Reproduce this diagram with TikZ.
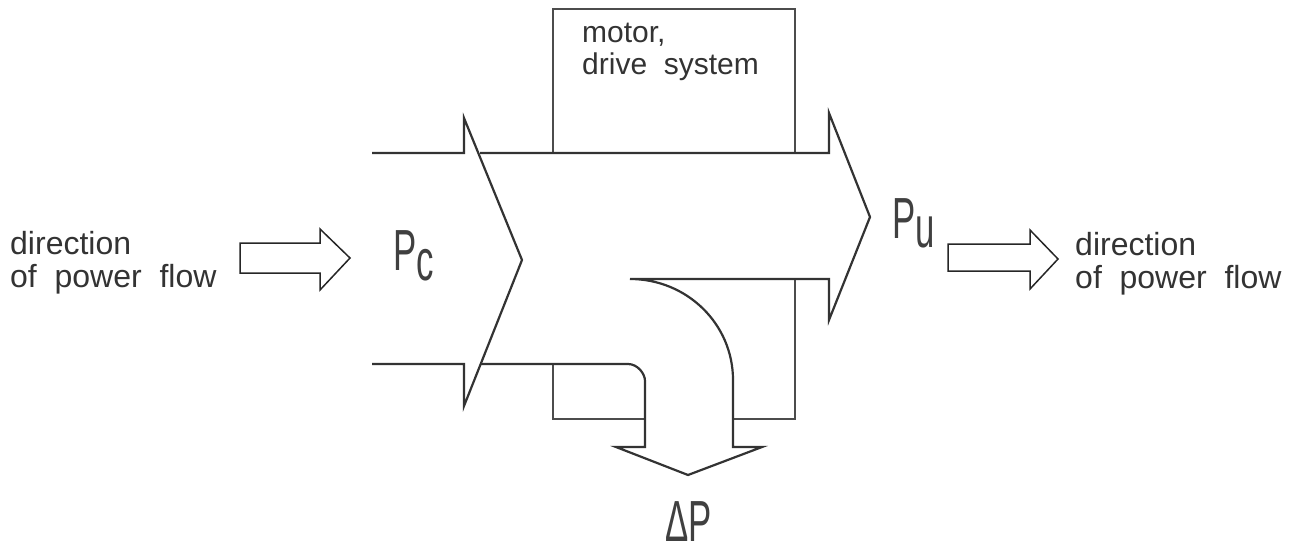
\documentclass[tikz,border=0pt]{standalone}
\usepackage{fontspec}
\setmainfont{Liberation Sans}
\usepackage{graphicx}
\begin{document}
\begin{tikzpicture}[x=1pt,y=-1pt,
  flow/.style={line width=2.2pt, draw=black!80, line join=miter},
  boxline/.style={line width=1.2pt, draw=black!70},
  hollow/.style={line width=1.5pt, draw=black!85, line join=miter},
  lbl/.style={inner sep=0pt, text=black!80, font=\fontsize{32}{33}\selectfont, align=left, anchor=north west},
  big/.style={inner sep=0pt, text=black!75, font=\fontsize{58}{60}\selectfont, anchor=base west}]
\useasboundingbox (0,0) rectangle (1295,547);
% motor / drive system box (partly hidden by the power arrow)
\draw[boxline] (553,9) rectangle (795,419);
\node[lbl, font=\fontsize{30}{32}\selectfont] (motor) at (582,23) {motor,\\drive\ \ system};
% white body of the power arrow
\fill[white] (480,153) -- (829,153) -- (829,279) -- (630,279)
  .. controls (687,279) and (733,324) .. (733,380) -- (733,447) -- (645,447) -- (645,381)
  .. controls (645,373.4) and (637.4,364) .. (628,364) -- (480,364) -- cycle;
% input channel and notched tail
\draw[flow] (372,153) -- (464,153) -- (464,118) -- (522,260) -- (464,406) -- (464,364) -- (372,364);
% arrow body, useful power head and loss branch
\draw[flow] (480,153) -- (829,153) -- (829,113) -- (870,217) -- (829,320) -- (829,279) -- (630,279)
  .. controls (687,279) and (733,324) .. (733,380) -- (733,447) -- (762,447) -- (688,475) -- (616,447)
  -- (645,447) -- (645,381) .. controls (645,373.4) and (637.4,364) .. (628,364) -- (480,364);
% hollow direction arrows
\draw[hollow] (240,243) -- (320,243) -- (320,229) -- (350,258) -- (320,290) -- (320,273) -- (240,273) -- cycle;
\draw[hollow] (948,244) -- (1030,244) -- (1030,230) -- (1058,259) -- (1030,289) -- (1030,271) -- (948,271) -- cycle;
% labels
\node[lbl] (inL) at (10,231) {direction\\of\ \ power\ \ flow};
\node[lbl] (outR) at (1075,232) {direction\\of\ \ power\ \ flow};
\node[big] (Pc) at (393,270) {\scalebox{0.6}[1]{P\raisebox{-10pt}{c}}};
\node[big] (Pu) at (892,238) {\scalebox{0.6}[1]{P\raisebox{-9pt}{u}}};
\node[big] (dP) at (665,541) {\scalebox{0.6}[1]{ΔP}};
\end{tikzpicture}
\end{document}
